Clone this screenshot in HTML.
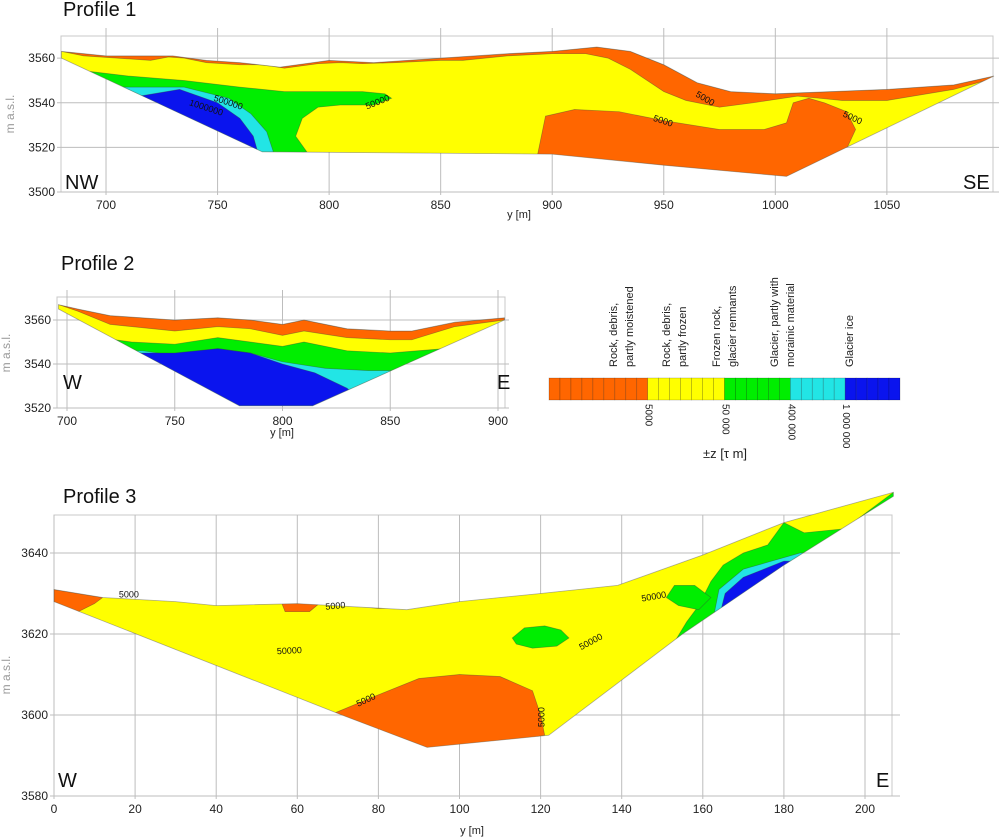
<!DOCTYPE html>
<html><head><meta charset="utf-8"><title>Resistivity profiles</title>
<style>
html,body{margin:0;padding:0;background:#fff;}
body{width:1005px;height:838px;overflow:hidden;font-family:"Liberation Sans",sans-serif;}
svg{position:absolute;left:0;top:0;}
</style></head>
<body>
<svg id="fig" width="1005" height="838" viewBox="0 0 1005 838" xmlns="http://www.w3.org/2000/svg">
  <defs>
    <clipPath id="clip1"><path id="clip1p"/></clipPath>
    <clipPath id="clip2"><path id="clip2p"/></clipPath>
    <clipPath id="clip3"><path id="clip3p"/></clipPath>
  </defs>
  <text x="63" y="16" font-size="20" fill="#111" font-family="Liberation Sans, sans-serif">Profile 1</text>
  <text x="61" y="270" font-size="20" fill="#111" font-family="Liberation Sans, sans-serif">Profile 2</text>
  <text x="63" y="503" font-size="20" fill="#111" font-family="Liberation Sans, sans-serif">Profile 3</text>
  <g id="g1"></g>
  <g id="g2"></g>
  <g id="g3"></g>
  <g id="legend"></g>
</svg>
<script>
const ORANGE="#ff6600", YELLOW="#ffff00", GREEN="#00ee00", CYAN="#22e5e5", BLUE="#0a14ee";

// ---------- Profile 1 data (y [m], elevation m a.s.l.) ----------
const p1XTicks=[700,750,800,850,900,950,1000,1050];
const p1YTicks=[3500,3520,3540,3560];
const p1Outline=[[680,3563],[700,3561],[715,3561],[730,3561],[745,3559],[760,3558],[778,3556],[800,3559],[820,3558],[850,3560],[880,3562],[900,3563],[920,3565],[935,3563],[950,3557],[965,3549],[980,3545],[1000,3544],[1050,3546],[1080,3548],[1098,3552],[1005,3507],[950,3512],[900,3517],[770,3518],[680,3560]];
const p1Green=[[670,3554],[693,3554],[710,3552],[735,3550],[760,3547],[780,3545],[800,3545],[815,3545],[825,3544],[828,3542],[820,3539],[805,3539],[795,3538],[788,3533],[785,3525],[790,3518],[680,3500],[670,3500]];
const p1Cyan=[[690,3548],[709,3547],[735,3547],[755,3542],[765,3535],[772,3527],[775,3518],[700,3500],[690,3500]];
const p1Blue=[[690,3543],[715,3543],[733,3546],[750,3540],[760,3533],[766,3525],[768,3518],[700,3500],[690,3500]];
const p1OrangeTop=[[680,3563],[700,3561],[715,3561],[730,3561],[745,3559],[760,3558],[778,3556],[800,3559],[820,3558],[850,3560],[880,3562],[900,3563],[920,3565],[935,3563],[950,3557],[965,3549],[980,3545],[1000,3544],[1050,3546],[1080,3548],[1098,3552],[1098,3551],[1080,3546],[1050,3541],[1030,3541],[1020,3542],[1010,3543],[990,3540],[975,3538],[960,3541],[950,3545],[935,3555],[925,3560],[915,3562],[900,3562],[880,3561],[860,3559],[850,3559],[830,3558],[815,3557.5],[805,3558],[795,3557.5],[780,3555.5],[770,3557],[760,3557],[745,3558],[735,3560],[728,3560.5],[720,3559],[705,3560],[690,3561],[680,3563]];
const p1OrangeLow=[[897,3534],[910,3537],[930,3536],[950,3532],[975,3528],[995,3528],[1005,3531],[1008,3540],[1015,3542],[1022,3540],[1032,3536],[1036,3528],[1030,3515],[1040,3500],[890,3500]];
const p1Labels=[["500000",748,3541,18],["1000000",737,3539,18],["50000",817,3537,-22],["5000",964,3543,30],["5000",945,3532,18],["5000",1030,3534,25]];

// ---------- Profile 2 data ----------
const p2XTicks=[700,750,800,850,900];
const p2YTicks=[3520,3540,3560];
const p2Outline=[[696,3567],[705,3565],[720,3562],[750,3560],[770,3561],[785,3560],[800,3558],[810,3560],[830,3556],[850,3555],[860,3555],[880,3559],[903,3561],[903,3560],[814,3521],[780,3521],[696,3565]];
const p2OrangeTop=[[696,3567],[705,3565],[720,3562],[750,3560],[770,3561],[785,3560],[800,3558],[810,3560],[830,3556],[850,3555],[860,3555],[880,3559],[903,3561],[903,3560],[880,3557],[860,3551],[850,3551],[830,3552],[810,3555],[800,3553],[785,3556],[770,3557],[750,3555],[720,3558],[705,3564]];
const p2Green=[[690,3556],[715,3552],[730,3550],[750,3549],[770,3552],[800,3548],[810,3550],[830,3546],[850,3545],[875,3547],[903,3558],[903,3500],[690,3500]];
const p2Cyan=[[690,3546],[735,3546],[750,3544],[770,3547],[785,3545],[800,3541],[820,3538],[840,3537],[870,3537],[870,3500],[690,3500]];
const p2Blue=[[690,3545],[734,3545],[750,3545],[770,3547],[785,3545],[800,3540],[815,3536],[830,3529],[840,3520],[690,3500]];

// ---------- Profile 3 data ----------
const p3XTicks=[0,20,40,60,80,100,120,140,160,180,200];
const p3YTicks=[3580,3600,3620,3640];
const p3Outline=[[0,3631],[12,3629],[30,3628],[40,3627],[60,3627.5],[87,3626],[100,3628],[120,3630],[139,3632],[160,3639.5],[180,3647.5],[207,3655],[207,3654],[180,3637],[155,3620],[122,3595],[92,3592],[71,3600],[0,3628]];
const p3OrangeA=[[0,3631],[12,3629],[10,3627.5],[6,3625.5],[0,3626]];
const p3OrangeB=[[56,3628],[66,3628],[63,3625.5],[57,3625.5]];
const p3OrangeC=[[70,3627.5],[87,3626.5],[80,3626.3]];
const p3OrangeD=[[141,3608],[146,3612],[147,3611],[145,3609]];
const p3OrangeBig=[[68,3600],[80,3605],[90,3609],[100,3610],[110,3609.5],[118,3606],[120,3600],[121,3595],[92,3590],[68,3598]];
const p3GreenBlob=[[113,3619],[116,3621.5],[121,3622],[125,3621],[127,3619],[124,3617],[118,3616.5],[114,3617.5]];
const p3GreenRight=[[153,3618],[156,3623],[159,3627],[162,3633],[165,3637],[170,3640],[176,3642],[180,3647.5],[185,3645],[195,3646],[207,3655],[210,3655],[210,3600],[153,3600]];
const p3GreenSide=[[151,3629],[153,3632],[158,3632],[162,3629],[159,3626],[154,3627]];
const p3Cyan=[[162,3620],[163,3626],[164,3631],[170,3636],[177,3638],[184,3640],[190,3640],[190,3600],[162,3600]];
const p3Blue=[[163.5,3620],[164.5,3626],[165.5,3630],[170,3634],[175,3636],[180,3638],[190,3638],[190,3600],[163.5,3600]];
const p3Labels=[["5000",16,3629,0],["5000",67,3626,-5],["50000",55,3615,-3],["5000",75,3602,-25],["5000",121,3597,-90],["50000",145,3628,-10],["50000",130,3616,-28]];

// ---------- Legend data ----------
const legendColors=[ORANGE,YELLOW,GREEN,CYAN,BLUE];
const legendCells=[9,7,6,5,5];
const legendNames=[["Rock, debris,","partly moistened"],["Rock, debris,","partly frozen"],["Frozen rock,","glacier remnants"],["Glacier, partly with","morainic material"],["Glacier ice"]];
const legendTicks=["5000","50 000","400 000","1 000 000"];
const legendLabelX=[617,670,720,778,853];

const NS="http://www.w3.org/2000/svg";
function mk(tag,attrs,parent){const e=document.createElementNS(NS,tag);for(const k in attrs)e.setAttribute(k,attrs[k]);parent.appendChild(e);return e;}
function pathOf(pts,sx,sy){return pts.map((p,i)=>(i?"L":"M")+sx(p[0]).toFixed(1)+","+sy(p[1]).toFixed(1)).join("")+"Z";}

function drawProfile(cfg){
  const g=document.getElementById(cfg.gid);
  const sx=v=>cfg.x0+(v-cfg.v0)*cfg.kx, sy=e=>cfg.ybot-(e-cfg.e0)*cfg.ky;
  const fr=mk("rect",{x:cfg.fl,y:cfg.ft,width:cfg.fr-cfg.fl,height:cfg.fb-cfg.ft,fill:"#fff",stroke:"#c8c8c8","stroke-width":1},g);
  
  
  cfg.xt.forEach(t=>{
    const l=mk("line",{x1:sx(t),x2:sx(t),y1:cfg.gridTop,y2:cfg.fb+3,stroke:"#bdbdbd","stroke-width":1},g);
    
    
    const tx=mk("text",{x:sx(t),y:cfg.fb+17,"font-size":12,"text-anchor":"middle",fill:"#222"},g);
    tx.textContent=t;
    
    
  });
  cfg.yt.forEach(t=>{
    const l=mk("line",{x1:cfg.fl-4,x2:cfg.fr+(cfg.extR||0),y1:sy(t),y2:sy(t),stroke:"#bdbdbd","stroke-width":1},g);
    
    
    const tx=mk("text",{x:cfg.fl-6,y:sy(t)+4,"font-size":12,"text-anchor":"end",fill:"#222"},g);
    tx.textContent=t;
    
    
  });
  document.getElementById(cfg.clip+"p").setAttribute("d",pathOf(cfg.outline,sx,sy));
  const cg=mk("g",{"clip-path":"url(#"+cfg.clip+")"},g);
  
  
  const base=mk("path",{d:pathOf(cfg.outline,sx,sy),fill:YELLOW},cg);
  
  
  cfg.layers.forEach(L=>{
    const p=mk("path",{d:pathOf(L[0],sx,sy),fill:L[1],stroke:"rgba(60,60,60,0.45)","stroke-width":0.7},cg);
    
    
  });
  (cfg.labels||[]).forEach(Lb=>{
    const t=mk("text",{x:sx(Lb[1]),y:sy(Lb[2]),"font-size":9,fill:"#111",transform:"rotate("+Lb[3]+" "+sx(Lb[1])+" "+sy(Lb[2])+")"},g);
    t.textContent=Lb[0];
    
    
  });
  const outl=mk("path",{d:pathOf(cfg.outline,sx,sy),fill:"none",stroke:"rgba(90,90,90,0.5)","stroke-width":0.8},g);
  
  
  const yl=mk("text",{x:cfg.yLabX,y:cfg.yLabY,"font-size":12,fill:"#9a9a9a","text-anchor":"middle",transform:"rotate(-90 "+cfg.yLabX+" "+cfg.yLabY+")"},g);
  yl.textContent="m a.s.l.";
  
  
  const xl=mk("text",{x:cfg.xLabX,y:cfg.xLabY,"font-size":11,fill:"#222","text-anchor":"middle"},g);
  xl.textContent="y [m]";
  
  
  const dl=mk("text",{x:cfg.dl[1],y:cfg.dl[2],"font-size":20,fill:"#111"},g);
  dl.textContent=cfg.dl[0];
  
  
  const dr=mk("text",{x:cfg.dr[1],y:cfg.dr[2],"font-size":20,fill:"#111"},g);
  dr.textContent=cfg.dr[0];
  
  
}

drawProfile({gid:"g1",clip:"clip1",x0:61.4,v0:680,kx:2.231,ybot:192,e0:3500,ky:2.231,fl:61,fr:993,ft:36,fb:192,gridTop:28,extR:6,
  xt:p1XTicks,yt:p1YTicks,outline:p1Outline,
  layers:[[p1Green,GREEN,"zone-frozen-rock"],[p1Cyan,CYAN,"zone-glacier-moraine"],[p1Blue,BLUE,"zone-glacier-ice"],[p1OrangeTop,ORANGE,"zone-moist-debris-top"],[p1OrangeLow,ORANGE,"zone-moist-debris-lower"]],
  labels:p1Labels,yLabX:14,yLabY:114,xLabX:519,xLabY:218,dl:["NW",65,189],dr:["SE",963,189]});

drawProfile({gid:"g2",clip:"clip2",x0:67,v0:700,kx:2.155,ybot:408,e0:3520,ky:2.2,fl:57,fr:505,ft:297,fb:408,gridTop:290,extR:4,
  xt:p2XTicks,yt:p2YTicks,outline:p2Outline,
  layers:[[p2Green,GREEN,"zone-frozen-rock"],[p2Cyan,CYAN,"zone-glacier-moraine"],[p2Blue,BLUE,"zone-glacier-ice"],[p2OrangeTop,ORANGE,"zone-moist-debris-top"]],
  labels:[],yLabX:10,yLabY:353,xLabX:282,xLabY:436,dl:["W",63,389],dr:["E",497,389]});

drawProfile({gid:"g3",clip:"clip3",x0:54,v0:0,kx:4.055,ybot:796,e0:3580,ky:4.05,fl:54,fr:892,ft:515,fb:796,gridTop:515,extR:8,
  xt:p3XTicks,yt:p3YTicks,outline:p3Outline,
  layers:[[p3GreenBlob,GREEN,"zone-frozen-rock-lens"],[p3GreenRight,GREEN,"zone-frozen-rock"],[p3GreenSide,GREEN,"zone-frozen-rock-side"],[p3Cyan,CYAN,"zone-glacier-moraine"],[p3Blue,BLUE,"zone-glacier-ice"],[p3OrangeA,ORANGE,"zone-moist-debris-a"],[p3OrangeB,ORANGE,"zone-moist-debris-b"],[p3OrangeC,ORANGE,"zone-moist-debris-c"],[p3OrangeD,ORANGE,"zone-moist-debris-d"],[p3OrangeBig,ORANGE,"zone-moist-debris-main"]],
  labels:p3Labels,yLabX:10,yLabY:675,xLabX:472,xLabY:834,dl:["W",58,787],dr:["E",876,787]});

(function(){
  const g=document.getElementById("legend");
  const x0=549,x1=900,y0=378,h=22;
  const total=legendCells.reduce((a,b)=>a+b,0), cw=(x1-x0)/total;
  let cx=x0;
  const bounds=[];
  legendColors.forEach((c,i)=>{
    for(let j=0;j<legendCells[i];j++){
      const r=mk("rect",{x:cx+j*cw,y:y0,width:cw,height:h,fill:c,stroke:"rgba(0,0,0,0.3)","stroke-width":0.6},g);
      
      
    }
    cx+=legendCells[i]*cw;
    bounds.push(cx);
    legendNames[i].forEach((line,k)=>{
      const lx=legendLabelX[i]+k*16, ly=y0-11;
      const t=mk("text",{x:lx,y:ly,"font-size":11,fill:"#222",transform:"rotate(-90 "+lx+" "+ly+")"},g);
      t.textContent=line;
      
      
    });
  });
  legendTicks.forEach((lab,i)=>{
    const lx=bounds[i]-2, ly=y0+h+4;
    const t=mk("text",{x:lx,y:ly,"font-size":10,fill:"#222",transform:"rotate(90 "+lx+" "+ly+")"},g);
    t.textContent=lab;
    
    
  });
  const ut=mk("text",{x:725,y:458,"font-size":13,fill:"#222","text-anchor":"middle"},g);
  ut.textContent="±z [τ m]";
  
  
})();
</script>
</body></html>
